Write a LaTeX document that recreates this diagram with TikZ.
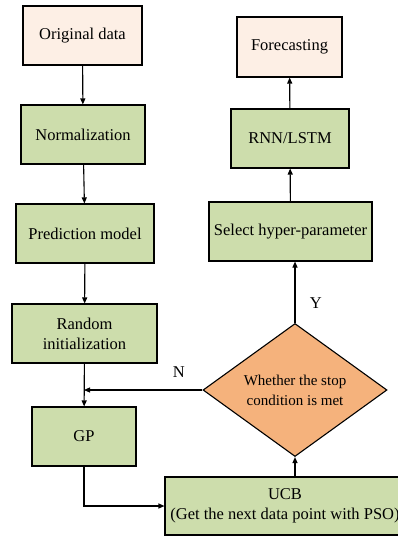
\documentclass[tikz,border=0pt]{standalone}
\usepackage{fontspec}
\setmainfont{Liberation Serif}
\usetikzlibrary{shapes.geometric,arrows.meta}
\definecolor{boxgreen}{RGB}{205,221,172}
\definecolor{boxpeach}{RGB}{253,239,229}
\definecolor{boxorange}{RGB}{245,178,124}
\tikzset{
  flowbox/.style={draw=black, line width=1.1pt, fill=boxgreen, align=center, inner sep=0pt,
    font=\fontsize{16.5}{20}\selectfont},
  endbox/.style={flowbox, fill=boxpeach},
  testbox/.style={diamond, draw=black, line width=1.1pt, fill=boxorange, align=center, inner sep=0pt,
    font=\fontsize{15}{20}\selectfont},
  flowline/.style={line width=1.1pt, -{Triangle[length=6pt,width=5pt]}},
  flowlabel/.style={font=\fontsize{16.5}{20}\selectfont}
}
\begin{document}
\begin{tikzpicture}[x=1pt,y=-1pt]
\useasboundingbox (0,0) rectangle (398,537);
% left column
\node[endbox, minimum width=119pt, minimum height=59pt] (orig) at (82.5,35.5) {Original data};
\node[flowbox, minimum width=124pt, minimum height=59pt] (norm) at (83,134.5) {Normalization};
\node[flowbox, minimum width=138pt, minimum height=59pt] (pred) at (85,233.5) {Prediction model};
\node[flowbox, minimum width=145pt, minimum height=59pt] (rand) at (84.5,333.5) {Random\\initialization};
\node[flowbox, minimum width=104pt, minimum height=59pt] (gp) at (84,436.5) {GP};
% bottom and decision
\node[flowbox, minimum width=240pt, minimum height=58pt] (ucb) at (285,506) {UCB\\(Get the next data point with PSO)};
\node[testbox, minimum width=184pt, minimum height=107pt] (stop) at (295,390) {Whether the stop\\condition is met};
% right column
\node[flowbox, minimum width=163pt, minimum height=59pt] (sel) at (290.5,231.5) {Select hyper-parameter};
\node[flowbox, minimum width=118pt, minimum height=59pt] (rnn) at (290,138.5) {RNN/LSTM};
\node[endbox, minimum width=105pt, minimum height=60pt] (fore) at (289.5,47) {Forecasting};
% connectors
\draw[flowline] (orig) -- (norm);
\draw[flowline] (norm) -- (pred);
\draw[flowline] (pred) -- (rand);
\draw[flowline] (rand) -- (gp);
\draw[flowline] (gp.south) |- (ucb.west);
\draw[flowline] (stop.south |- ucb.north) -- (stop.south);
\draw[flowline] (stop.north) -- node[pos=0.33, right=11pt, flowlabel] {Y} (stop.north |- sel.south);
\draw[flowline] (stop.west) -- node[pos=0.2, above=9pt, flowlabel] {N} (stop.west -| gp.north);
\draw[flowline] (sel) -- (rnn);
\draw[flowline] (rnn) -- (fore);
\end{tikzpicture}
\end{document}
